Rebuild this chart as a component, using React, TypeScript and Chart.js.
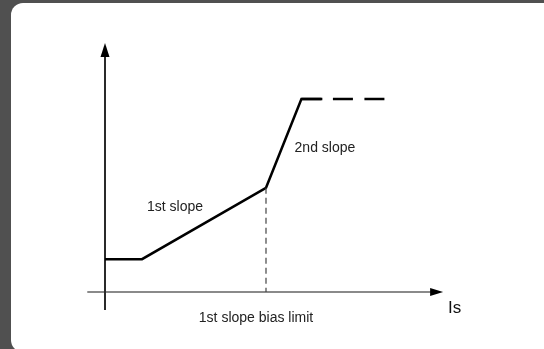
import React, { useEffect, useRef } from "react";
import { Chart, registerables } from "chart.js";

Chart.register(...registerables);

// Characteristic (units: x = Is relative to bias limit = 10, y = relative to max = 10)
const slopeX = [0, 2.3, 10, 12.2, 13.5];
const slopeY = [1.7, 1.7, 5.4, 10, 10];
const plateauX = [12.2, 17.5];
const plateauY = [10, 10];
const biasLimitX = [10, 10];
const biasLimitY = [5.4, 0];

const labelTexts = ["1st slope", "2nd slope", "1st slope bias limit", "Is"];
const labelX = [4.35, 13.66, 9.38, 21.3];
const labelY = [4.4, 7.46, -1.35, -0.83];

const X_MIN = -1.242;
const X_MAX = 21.118;
const Y_MIN = -1.036;
const Y_MAX = 13.06;

const axesPlugin = {
  id: "diagramAxes",
  beforeDatasetsDraw(chart: any) {
    const { ctx, scales } = chart;
    const xs = scales.x;
    const ys = scales.y;
    const x0 = xs.getPixelForValue(0);
    const y0 = ys.getPixelForValue(0);
    ctx.save();
    // x axis
    const xStart = xs.getPixelForValue(-1.1);
    const xEnd = xs.getPixelForValue(21.0);
    ctx.strokeStyle = "#8a8a8a";
    ctx.lineWidth = 2;
    ctx.beginPath();
    ctx.moveTo(xStart, y0);
    ctx.lineTo(xEnd - 10, y0);
    ctx.stroke();
    ctx.fillStyle = "#000";
    ctx.beginPath();
    ctx.moveTo(xEnd, y0);
    ctx.lineTo(xEnd - 13, y0 - 4);
    ctx.lineTo(xEnd - 13, y0 + 4);
    ctx.closePath();
    ctx.fill();
    // y axis
    const yBottom = ys.getPixelForValue(-0.93);
    const yTop = ys.getPixelForValue(12.9);
    ctx.strokeStyle = "#2a2a2a";
    ctx.lineWidth = 2;
    ctx.beginPath();
    ctx.moveTo(x0, yBottom);
    ctx.lineTo(x0, yTop + 10);
    ctx.stroke();
    ctx.fillStyle = "#000";
    ctx.beginPath();
    ctx.moveTo(x0, yTop);
    ctx.lineTo(x0 - 4.5, yTop + 14);
    ctx.lineTo(x0 + 4.5, yTop + 14);
    ctx.closePath();
    ctx.fill();
    ctx.restore();
  },
  afterDraw(chart: any) {
    const { ctx, scales } = chart;
    ctx.save();
    ctx.textBaseline = "middle";
    labelTexts.forEach((t, i) => {
      const isAxis = t === "Is";
      ctx.fillStyle = isAxis ? "#111" : "#222";
      ctx.font = isAxis
        ? "17px 'Liberation Sans', Arial, sans-serif"
        : "14px 'Liberation Sans', Arial, sans-serif";
      ctx.textAlign = isAxis ? "left" : "center";
      ctx.fillText(t, scales.x.getPixelForValue(labelX[i]), scales.y.getPixelForValue(labelY[i]));
    });
    ctx.restore();
  },
};

export default function App() {
  const ref = useRef<HTMLCanvasElement>(null);
  useEffect(() => {
    const canvas = ref.current;
    if (!canvas) return;
    const toPts = (xs: number[], ys: number[]) => xs.map((x, i) => ({ x, y: ys[i] }));
    const chart = new Chart(canvas, {
      type: "scatter",
      data: {
        datasets: [
          {
            data: toPts(biasLimitX, biasLimitY),
            showLine: true,
            borderColor: "#444",
            borderWidth: 1.2,
            borderDash: [6, 4],
            pointRadius: 0,
          },
          {
            data: toPts(slopeX, slopeY),
            showLine: true,
            borderColor: "#000",
            borderWidth: 2.5,
            pointRadius: 0,
            borderJoinStyle: "miter",
          },
          {
            data: toPts(plateauX, plateauY),
            showLine: true,
            borderColor: "#000",
            borderWidth: 2.5,
            borderDash: [20, 11.5],
            pointRadius: 0,
          },
        ],
      },
      options: {
        animation: false,
        responsive: false,
        maintainAspectRatio: false,
        events: [],
        layout: { padding: { left: 85, right: 99, top: 40, bottom: 37 } },
        plugins: { legend: { display: false }, tooltip: { enabled: false }, title: { display: false } },
        scales: {
          x: { type: "linear", display: false, min: X_MIN, max: X_MAX },
          y: { type: "linear", display: false, min: Y_MIN, max: Y_MAX },
        },
      },
      plugins: [axesPlugin],
    } as any);
    return () => chart.destroy();
  }, []);

  return (
    <div style={{ position: "fixed", left: 0, top: 0, width: 544, height: 349, background: "#505050", overflow: "hidden" }}>
      <div style={{ position: "absolute", left: 11, top: 3, width: 560, height: 349, background: "#fff", borderRadius: 12 }} />
      <canvas ref={ref} width={544} height={349} style={{ position: "absolute", left: 0, top: 0, width: 544, height: 349 }} />
    </div>
  );
}
